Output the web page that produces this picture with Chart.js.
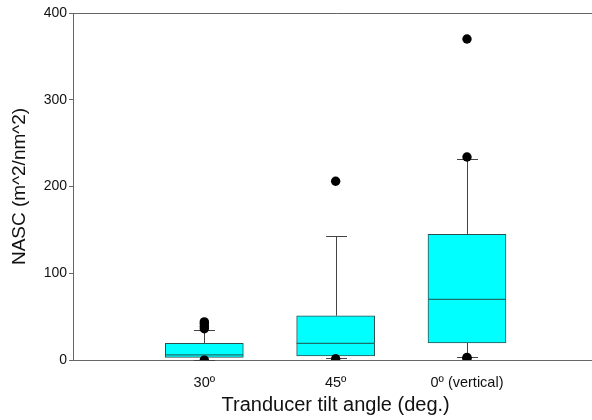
<!DOCTYPE html>
<html>
<head>
<meta charset="utf-8">
<script src="https://cdn.jsdelivr.net/npm/chart.js@4"></script>
<style>
    html, body { margin: 0; padding: 0; background: #fff; overflow: hidden; }
    #boxChart { display: block; }
</style>
</head>
<body>
<canvas id="boxChart" width="603" height="420"></canvas>
<script>
'use strict';

// Categories and box statistics
const categories   = ['30º', '45º', '0º (vertical)'];
const q1           = [3, 4.6, 19.6];
const q3           = [19.2, 51, 145];
const medians      = [6, 19.2, 70];
const whiskerLow   = [0.5, 2.5, 4];
const whiskerHigh  = [34.6, 143, 232];
const outliers     = [[44, 42, 39, 36, 0], [206, 1.5], [370, 234, 3, 2]];
const yTicks       = [0, 100, 200, 300, 400];

// Pad the category axis with empty slots so boxes sit at 1, 2, 3 of 0..4
const labels = ['', ...categories, ''];
const boxData = [null, ...categories.map((c, i) => [q1[i], q3[i]]), null];
const outlierData = [];
categories.forEach((c, i) => outliers[i].forEach(v => outlierData.push({ x: c, y: v })));

const FONT = 'Arial, "Liberation Sans", sans-serif';
const AXIS_COLOR = '#666';

// Whiskers, caps and medians drawn through the chart's scales
const boxExtras = {
    id: 'boxExtras',
    beforeDatasetsDraw(chart) {
        const { ctx, scales: { x, y } } = chart;
        const capHalf = 10.5;
        ctx.save();
        ctx.strokeStyle = '#444';
        ctx.lineWidth = 1;
        categories.forEach((c, i) => {
            const px = Math.round(x.getPixelForValue(i + 1)) + 0.5;
            const segs = [[q3[i], whiskerHigh[i]], [q1[i], whiskerLow[i]]];
            segs.forEach(([from, to]) => {
                const y0 = y.getPixelForValue(from);
                const y1 = Math.round(y.getPixelForValue(to)) + 0.5;
                ctx.beginPath();
                ctx.moveTo(px, y0);
                ctx.lineTo(px, y1);
                ctx.moveTo(px - capHalf, y1);
                ctx.lineTo(px + capHalf, y1);
                ctx.stroke();
            });
        });
        ctx.restore();
    },
    afterDatasetsDraw(chart) {
        const { ctx, scales: { y } } = chart;
        const meta = chart.getDatasetMeta(0);
        ctx.save();
        ctx.strokeStyle = '#1b6f6f';
        ctx.lineWidth = 1.3;
        categories.forEach((c, i) => {
            const bar = meta.data[i + 1];
            const half = bar.width / 2;
            const py = y.getPixelForValue(medians[i]);
            ctx.beginPath();
            ctx.moveTo(bar.x - half, py);
            ctx.lineTo(bar.x + half, py);
            ctx.stroke();
        });
        ctx.restore();
    }
};

new Chart(document.getElementById('boxChart'), {
    data: {
        labels,
        datasets: [
            {
                type: 'bar',
                data: boxData,
                backgroundColor: '#00ffff',
                borderColor: '#2f4f4f',
                borderWidth: 1,
                borderSkipped: false,
                barThickness: 78,
                order: 2
            },
            {
                type: 'scatter',
                data: outlierData,
                backgroundColor: '#000',
                borderWidth: 0,
                pointRadius: 4.7,
                order: 1
            }
        ]
    },
    options: {
        responsive: false,
        animation: false,
        layout: { padding: { top: 13, right: 0, left: 0, bottom: 0 } },
        plugins: {
            legend: { display: false },
            tooltip: { enabled: false }
        },
        scales: {
            x: {
                type: 'category',
                offset: false,
                grid: { display: false },
                border: { display: true, color: AXIS_COLOR, width: 1 },
                ticks: {
                    color: '#111', font: { family: FONT, size: 14.5 }, padding: 6,
                    maxRotation: 0, autoSkip: false
                },
                title: {
                    display: true, text: 'Tranducer tilt angle (deg.)', color: '#111',
                    font: { family: FONT, size: 20 }, padding: { top: 4, bottom: 3 }
                },
                afterFit: s => { s.height = 60; s.paddingRight = 0; s.paddingLeft = 0; }
            },
            y: {
                min: 0,
                max: 400,
                afterBuildTicks: s => { s.ticks = yTicks.map(v => ({ value: v })); },
                grid: {
                    drawOnChartArea: true,
                    color: c => (c.tick && c.tick.value === 400 ? AXIS_COLOR : 'rgba(0,0,0,0)'),
                    tickColor: AXIS_COLOR,
                    tickLength: 4
                },
                border: { display: true, color: AXIS_COLOR, width: 1 },
                ticks: { color: '#111', font: { family: FONT, size: 14 }, padding: 2 },
                title: {
                    display: true, text: 'NASC (m^2/nm^2)', color: '#111',
                    font: { family: FONT, size: 19 }, padding: { top: 8, bottom: 4 }
                },
                afterFit: s => { s.width = 73; }
            }
        }
    },
    plugins: [boxExtras]
});
</script>
</body>
</html>
